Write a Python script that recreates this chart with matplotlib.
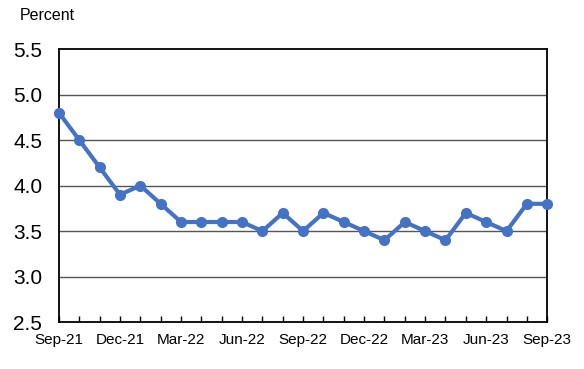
import matplotlib
matplotlib.use("Agg")
import matplotlib.pyplot as plt
import numpy as np

months = ["Sep-21", "Oct-21", "Nov-21", "Dec-21", "Jan-22", "Feb-22", "Mar-22",
          "Apr-22", "May-22", "Jun-22", "Jul-22", "Aug-22", "Sep-22", "Oct-22",
          "Nov-22", "Dec-22", "Jan-23", "Feb-23", "Mar-23", "Apr-23", "May-23",
          "Jun-23", "Jul-23", "Aug-23", "Sep-23"]
rate = [4.8, 4.5, 4.2, 3.9, 4.0, 3.8, 3.6, 3.6, 3.6, 3.6, 3.5, 3.7, 3.5, 3.7,
        3.6, 3.5, 3.4, 3.6, 3.5, 3.4, 3.7, 3.6, 3.5, 3.8, 3.8]
yticks = [2.5, 3.0, 3.5, 4.0, 4.5, 5.0, 5.5]

plt.rcParams["font.family"] = ["Liberation Sans", "DejaVu Sans"]

fig = plt.figure(figsize=(5.84, 3.69), dpi=100)
ax = fig.add_axes([0.101, 0.127, 0.836, 0.740])

x = np.arange(len(months))
for y in yticks[1:-1]:
    ax.axhline(y, color="#555555", lw=1.0, zorder=1)
ax.plot(x, rate, color="#4472C4", lw=3, marker="o", ms=7, zorder=3,
        clip_on=False)

ax.set_xlim(0, len(months) - 1)
ax.set_ylim(2.5, 5.5)
ax.set_yticks(yticks)
ax.set_yticklabels([f"{v:.1f}" for v in yticks], fontsize=15)
ax.set_xticks(x[::3])
ax.set_xticklabels(months[::3], fontsize=11)
ax.set_xticks(x, minor=True)
ax.tick_params(axis="x", which="both", direction="in", length=4, width=1,
               pad=8)
ax.tick_params(axis="y", length=0, pad=12)
for s in ax.spines.values():
    s.set_linewidth(1.3)
    s.set_color("black")

fig.text(0.034, 0.945, "Percent", fontsize=11.5)
fig.savefig("out.png", dpi=100)
